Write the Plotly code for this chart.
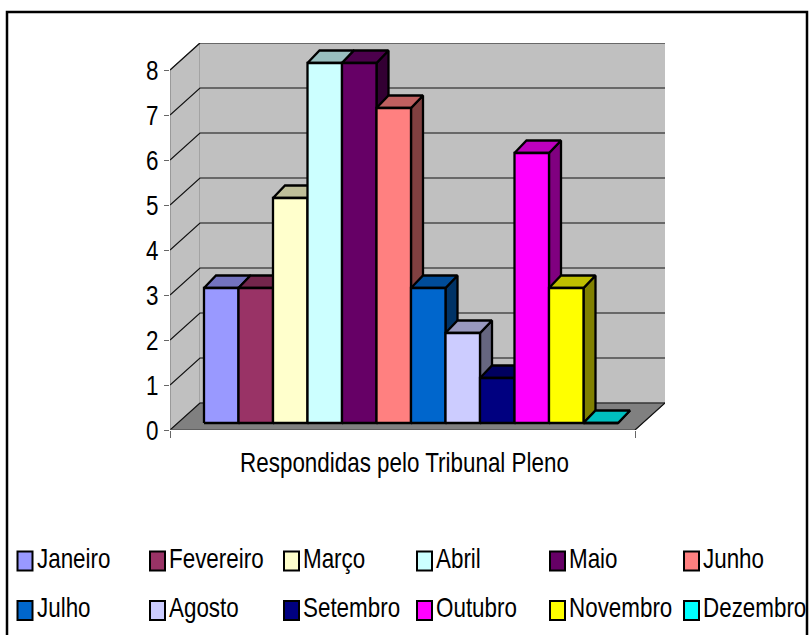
import plotly.graph_objects as go

# Chart content
MONTHS = ["Janeiro", "Fevereiro", "Março", "Abril", "Maio", "Junho",
          "Julho", "Agosto", "Setembro", "Outubro", "Novembro", "Dezembro"]
VALUES = [3, 3, 5, 8, 8, 7, 3, 2, 1, 6, 3, 0]
COLORS = [(0x99, 0x99, 0xFF), (0x99, 0x33, 0x66), (0xFF, 0xFF, 0xCC), (0xCC, 0xFF, 0xFF),
          (0x66, 0x00, 0x66), (0xFF, 0x80, 0x80), (0x00, 0x66, 0xCC), (0xCC, 0xCC, 0xFF),
          (0x00, 0x00, 0x80), (0xFF, 0x00, 0xFF), (0xFF, 0xFF, 0x00), (0x00, 0xFF, 0xFF)]
Y_TICKS = [0, 1, 2, 3, 4, 5, 6, 7, 8]
AXIS_TITLE = "Respondidas pelo Tribunal Pleno"

# Page geometry
W, H = 810, 635
FONT = "Liberation Sans, Arial"
FONT_SIZE = 28
TEXT_SQUEEZE = 0.80               # the chart's lettering is tall and narrow
PX_X, PX_Y = 34.5, 45.0           # pixels per category / per value unit
LEFT, RIGHT, TOP, BOTTOM = 170, 665, 43, 430
X_MIN = (LEFT - 204) / PX_X
X_MAX = (RIGHT - 204) / PX_X
Y_MAX = (BOTTOM - TOP) / PX_Y

# Oblique projection offsets, in axis units
WALL_DX, WALL_DY = 30 / PX_X, 27 / PX_Y
FRONT_X = X_MIN
FRONT_END = (635 - 204) / PX_X
BAR_BASE = 7 / PX_Y
BAR_DX, BAR_DY = 12 / PX_X, 12.5 / PX_Y


def shade(rgb, k):
    return "rgb({},{},{})".format(*[round(c * k) for c in rgb])


def face(xs, ys, fill, line="black", width=2.3, name=None):
    return go.Scatter(
        x=xs + xs[:1], y=ys + ys[:1], mode="lines", fill="toself", fillcolor=fill,
        line=dict(color=line, width=width), name=name, cliponaxis=False,
        hoverinfo="name" if name else "skip", showlegend=False,
    )


def polyline(xs, ys, color="#111111", width=1.2):
    return go.Scatter(x=xs, y=ys, mode="lines", line=dict(color=color, width=width),
                      cliponaxis=False, hoverinfo="skip", showlegend=False)


fig = go.Figure()

# Walls and floor of the box
top = Y_TICKS[-1]
fig.add_trace(face([FRONT_X, FRONT_X + WALL_DX, FRONT_X + WALL_DX, FRONT_X],
                   [0, WALL_DY, top + WALL_DY, top], "#C0C0C0", "#808080", 1.2))
fig.add_trace(face([FRONT_X + WALL_DX, X_MAX, X_MAX, FRONT_X + WALL_DX],
                   [WALL_DY, WALL_DY, top + WALL_DY, top + WALL_DY], "#C0C0C0", "#C0C0C0", 0.5))
fig.add_trace(face([FRONT_X, FRONT_END, X_MAX, FRONT_X + WALL_DX],
                   [0, 0, WALL_DY, WALL_DY], "#808080", "#808080", 1))

# Gridlines wrap from the left wall onto the back wall
for t in Y_TICKS:
    fig.add_trace(polyline([FRONT_X, FRONT_X + WALL_DX, X_MAX],
                           [t, t + WALL_DY, t + WALL_DY]))
fig.add_trace(polyline([FRONT_X, FRONT_END], [0, 0], "#555555", 1.5))
fig.add_trace(polyline([FRONT_END, X_MAX], [0, WALL_DY], "#111111", 1.2))

# One oblique column per month, left to right so later ones sit in front
for i, (name, v, rgb) in enumerate(zip(MONTHS, VALUES, COLORS)):
    x0, x1 = i, i + 1
    y0, y1 = BAR_BASE, BAR_BASE + v
    fig.add_trace(face([x1, x1 + BAR_DX, x1 + BAR_DX, x1],
                       [y0, y0 + BAR_DY, y1 + BAR_DY, y1], shade(rgb, 0.5)))
    fig.add_trace(face([x0, x1, x1 + BAR_DX, x0 + BAR_DX],
                       [y1, y1, y1 + BAR_DY, y1 + BAR_DY], shade(rgb, 0.75)))
    fig.add_trace(face([x0, x1, x1, x0], [y0, y0, y1, y1], shade(rgb, 1), name=f"{name}: {v}"))

# Legend laid out on a two-row grid
COL_X = [16.5, 149, 283, 416, 549, 683]
ROW_Y = [550.5, 600]
shapes = [dict(type="rect", xref="paper", yref="paper", x0=7 / W, x1=807 / W,
               y0=-0.05, y1=(H - 12) / H, line=dict(color="black", width=2.5))]
annotations = [dict(text=AXIS_TITLE, xref="paper", yref="paper", x=404 / W, y=(H - 463) / H,
                    xanchor="center", yanchor="middle", showarrow=False,
                    font=dict(family=FONT, size=FONT_SIZE, color="black"))]
for i, (name, rgb) in enumerate(zip(MONTHS, COLORS)):
    px = COL_X[i % 6]
    py = ROW_Y[i // 6]
    shapes.append(dict(type="rect", xref="paper", yref="paper",
                       x0=(px + 1) / W, x1=(px + 16) / W,
                       y0=(H - py - 20) / H, y1=(H - py - 1) / H,
                       fillcolor=shade(rgb, 1), line=dict(color="black", width=2)))
    annotations.append(dict(text=name, xref="paper", yref="paper",
                            x=(px + 18) / W, y=(H - py - 7.5) / H,
                            xanchor="left", yanchor="middle", align="left", showarrow=False,
                            font=dict(family=FONT, size=FONT_SIZE, color="black")))

fig.update_layout(
    width=W, height=H, autosize=False,
    margin=dict(l=0, r=0, t=0, b=0, pad=0, autoexpand=False),
    paper_bgcolor="white", plot_bgcolor="rgba(0,0,0,0)", showlegend=False,
    xaxis=dict(domain=[LEFT / W, RIGHT / W], range=[X_MIN, X_MAX], showgrid=False,
               zeroline=False, showline=False, ticks="outside", ticklen=7, tickwidth=1,
               tickcolor="#666666", tickvals=[FRONT_X, FRONT_END], showticklabels=False),
    yaxis=dict(domain=[(H - BOTTOM) / H, (H - TOP) / H], range=[0, Y_MAX], showgrid=False,
               zeroline=False, showline=False, ticks="outside", ticklen=5, tickwidth=1,
               tickcolor="#666666", tickvals=Y_TICKS, ticktext=[str(t) for t in Y_TICKS],
               tickfont=dict(family=FONT, size=FONT_SIZE, color="black")),
    shapes=shapes, annotations=annotations,
)

# Narrow the glyphs of every label without changing their height
narrow_text = """
document.querySelectorAll('.main-svg text').forEach(function (t) {
  var n = t.getComputedTextLength();
  if (n > 0) {
    t.setAttribute('lengthAdjust', 'spacingAndGlyphs');
    t.setAttribute('textLength', n * %s);
  }
});
""" % TEXT_SQUEEZE

fig.write_html("out.html", post_script=narrow_text)
